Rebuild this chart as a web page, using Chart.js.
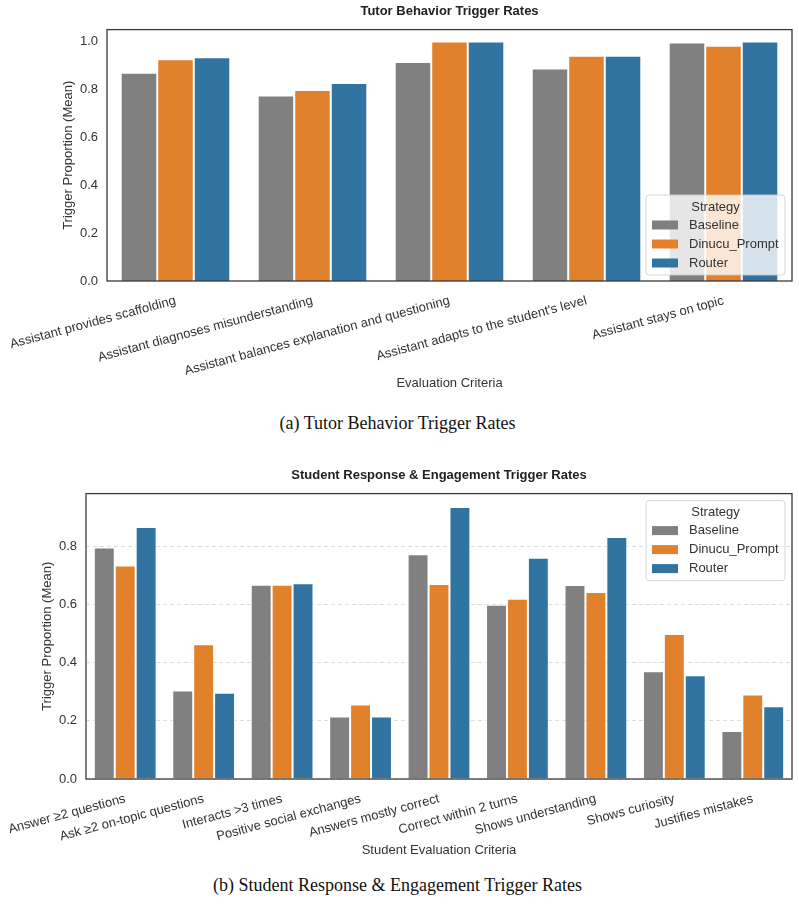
<!DOCTYPE html>
<html>
<head>
<meta charset="utf-8">
<script src="https://cdn.jsdelivr.net/npm/chart.js@4.4.1/dist/chart.umd.min.js"></script>
<style>
  body { margin: 0; background: #fff; }
  #page { position: relative; width: 799px; height: 904px; }
  .box { position: absolute; left: 0; }
  .cap {
    position: absolute; left: 0; width: 795px; text-align: center; line-height: 21px;
    font-family: "Liberation Serif", "Times New Roman", serif; font-size: 18px; color: #111;
  }
</style>
</head>
<body>
<div id="page">
  <div class="box" style="top:0px"><canvas id="tutorChart" width="799" height="400"></canvas></div>
  <div class="cap" style="top:413px">(a) Tutor Behavior Trigger Rates</div>
  <div class="box" style="top:464px"><canvas id="studentChart" width="799" height="403"></canvas></div>
  <div class="cap" style="top:875px">(b) Student Response &amp; Engagement Trigger Rates</div>
</div>
<script>
// series names + colours (seaborn desaturated palette)
const strategies = ['Baseline', 'Dinucu_Prompt', 'Router'];
const strategyColors = ['#808080', '#e1812c', '#3274a1'];

// (a) tutor behaviour
const tutorCategories = [
  'Assistant provides scaffolding',
  'Assistant diagnoses misunderstanding',
  'Assistant balances explanation and questioning',
  "Assistant adapts to the student's level",
  'Assistant stays on topic'
];
const tutorBaseline = [0.870, 0.775, 0.915, 0.888, 0.996];
const tutorDinucu = [0.926, 0.798, 1.000, 0.941, 0.983];
const tutorRouter = [0.934, 0.827, 1.000, 0.941, 1.000];
const tutorTicks = [0.0, 0.2, 0.4, 0.6, 0.8, 1.0];

// (b) student response & engagement
const studentCategories = [
  'Answer \u22652 questions',
  'Ask \u22652 on-topic questions',
  'Interacts >3 times',
  'Positive social exchanges',
  'Answers mostly correct',
  'Correct within 2 turns',
  'Shows understanding',
  'Shows curiosity',
  'Justifies mistakes'
];
const studentBaseline = [0.795, 0.304, 0.667, 0.215, 0.772, 0.598, 0.666, 0.370, 0.165];
const studentDinucu = [0.733, 0.463, 0.667, 0.256, 0.670, 0.619, 0.642, 0.498, 0.290];
const studentRouter = [0.865, 0.296, 0.672, 0.215, 0.934, 0.760, 0.831, 0.356, 0.250];
const studentTicks = [0.0, 0.2, 0.4, 0.6, 0.8];

const sans = '"Liberation Sans", Arial, sans-serif';
const textColor = '#333333';

// legend with a title drawn inside the plot area, like matplotlib's
const insideLegend = {
  id: 'insideLegend',
  afterDatasetsDraw(chart, args, opts) {
    const ctx = chart.ctx;
    const area = chart.chartArea;
    const w = 139, h = 80;
    const x = area.right - 7 - w;
    const y = opts.corner === 'upperRight' ? area.top + 7 : area.bottom - 6 - h;
    ctx.save();
    ctx.beginPath();
    ctx.roundRect(x, y, w, h, 3);
    ctx.fillStyle = 'rgba(255,255,255,0.8)';
    ctx.fill();
    ctx.strokeStyle = 'rgba(204,204,204,0.8)';
    ctx.lineWidth = 1;
    ctx.stroke();
    ctx.font = '13px ' + sans;
    ctx.fillStyle = textColor;
    ctx.textBaseline = 'middle';
    ctx.textAlign = 'center';
    ctx.fillText('Strategy', x + w / 2, y + 12);
    ctx.textAlign = 'left';
    chart.data.datasets.forEach((ds, i) => {
      const cy = y + 30 + i * 19;
      ctx.fillStyle = ds.backgroundColor;
      ctx.fillRect(x + 6, cy - 4.5, 26, 9);
      ctx.fillStyle = textColor;
      ctx.fillText(ds.label, x + 43, cy);
    });
    ctx.restore();
  }
};

// full box around the axes
const frame = {
  id: 'frame',
  afterDraw(chart) {
    const a = chart.chartArea;
    const ctx = chart.ctx;
    ctx.save();
    ctx.strokeStyle = '#3a3a3a';
    ctx.lineWidth = 1.3;
    ctx.strokeRect(a.left, a.top, a.right - a.left, a.bottom - a.top);
    ctx.restore();
  }
};

function makeChart(id, cfg) {
  const datasets = [cfg.baseline, cfg.dinucu, cfg.router].map((vals, i) => ({
    label: strategies[i],
    data: vals,
    backgroundColor: strategyColors[i],
    borderColor: '#ffffff',
    borderWidth: 1,
    categoryPercentage: 0.8,
    barPercentage: 1.0
  }));
  return new Chart(document.getElementById(id), {
    type: 'bar',
    data: { labels: cfg.categories, datasets: datasets },
    plugins: [insideLegend, frame],
    options: {
      responsive: false,
      animation: false,
      devicePixelRatio: 1,
      layout: { padding: { left: cfg.padLeft, right: 7, top: 0, bottom: 0 } },
      plugins: {
        legend: { display: false },
        tooltip: { enabled: false },
        title: {
          display: true,
          text: cfg.title,
          fullSize: false,
          color: '#222',
          font: { family: sans, size: 13, weight: 'bold' },
          padding: { top: 4, bottom: 10 }
        },
        insideLegend: { corner: cfg.legendCorner }
      },
      scales: {
        x: {
          grid: { display: false },
          border: { display: false },
          ticks: {
            color: textColor,
            font: { family: sans, size: 13 },
            minRotation: 15,
            maxRotation: 15,
            autoSkip: false,
            padding: 4
          },
          title: {
            display: true,
            text: cfg.xTitle,
            color: textColor,
            font: { family: sans, size: 13 },
            padding: { top: 4, bottom: 9 }
          },
          afterFit(scale) {
            scale.paddingLeft = 0;
            scale.paddingRight = 0;
            scale.height = cfg.xHeight;
          }
        },
        y: {
          min: 0,
          max: cfg.yMax,
          grid: {
            display: cfg.grid,
            color: '#dddddd',
            drawTicks: false
          },
          border: { display: false, dash: [4, 3] },
          afterBuildTicks(scale) {
            scale.ticks = cfg.ticks.map(v => ({ value: v }));
          },
          ticks: {
            color: textColor,
            font: { family: sans, size: 13 },
            padding: 9,
            callback: v => v.toFixed(1)
          },
          title: {
            display: true,
            text: 'Trigger Proportion (Mean)',
            color: textColor,
            font: { family: sans, size: 13 },
            padding: { top: 1, bottom: 0 }
          },
          afterFit(scale) {
            scale.width = 47;
          }
        }
      }
    }
  });
}

makeChart('tutorChart', {
  categories: tutorCategories,
  baseline: tutorBaseline,
  dinucu: tutorDinucu,
  router: tutorRouter,
  ticks: tutorTicks,
  yMax: 1.05,
  grid: false,
  title: 'Tutor Behavior Trigger Rates',
  xTitle: 'Evaluation Criteria',
  legendCorner: 'lowerRight',
  padLeft: 60,
  xHeight: 119
});

makeChart('studentChart', {
  categories: studentCategories,
  baseline: studentBaseline,
  dinucu: studentDinucu,
  router: studentRouter,
  ticks: studentTicks,
  yMax: 0.98,
  grid: true,
  title: 'Student Response & Engagement Trigger Rates',
  xTitle: 'Student Evaluation Criteria',
  legendCorner: 'upperRight',
  padLeft: 39,
  xHeight: 88
});
</script>
</body>
</html>
